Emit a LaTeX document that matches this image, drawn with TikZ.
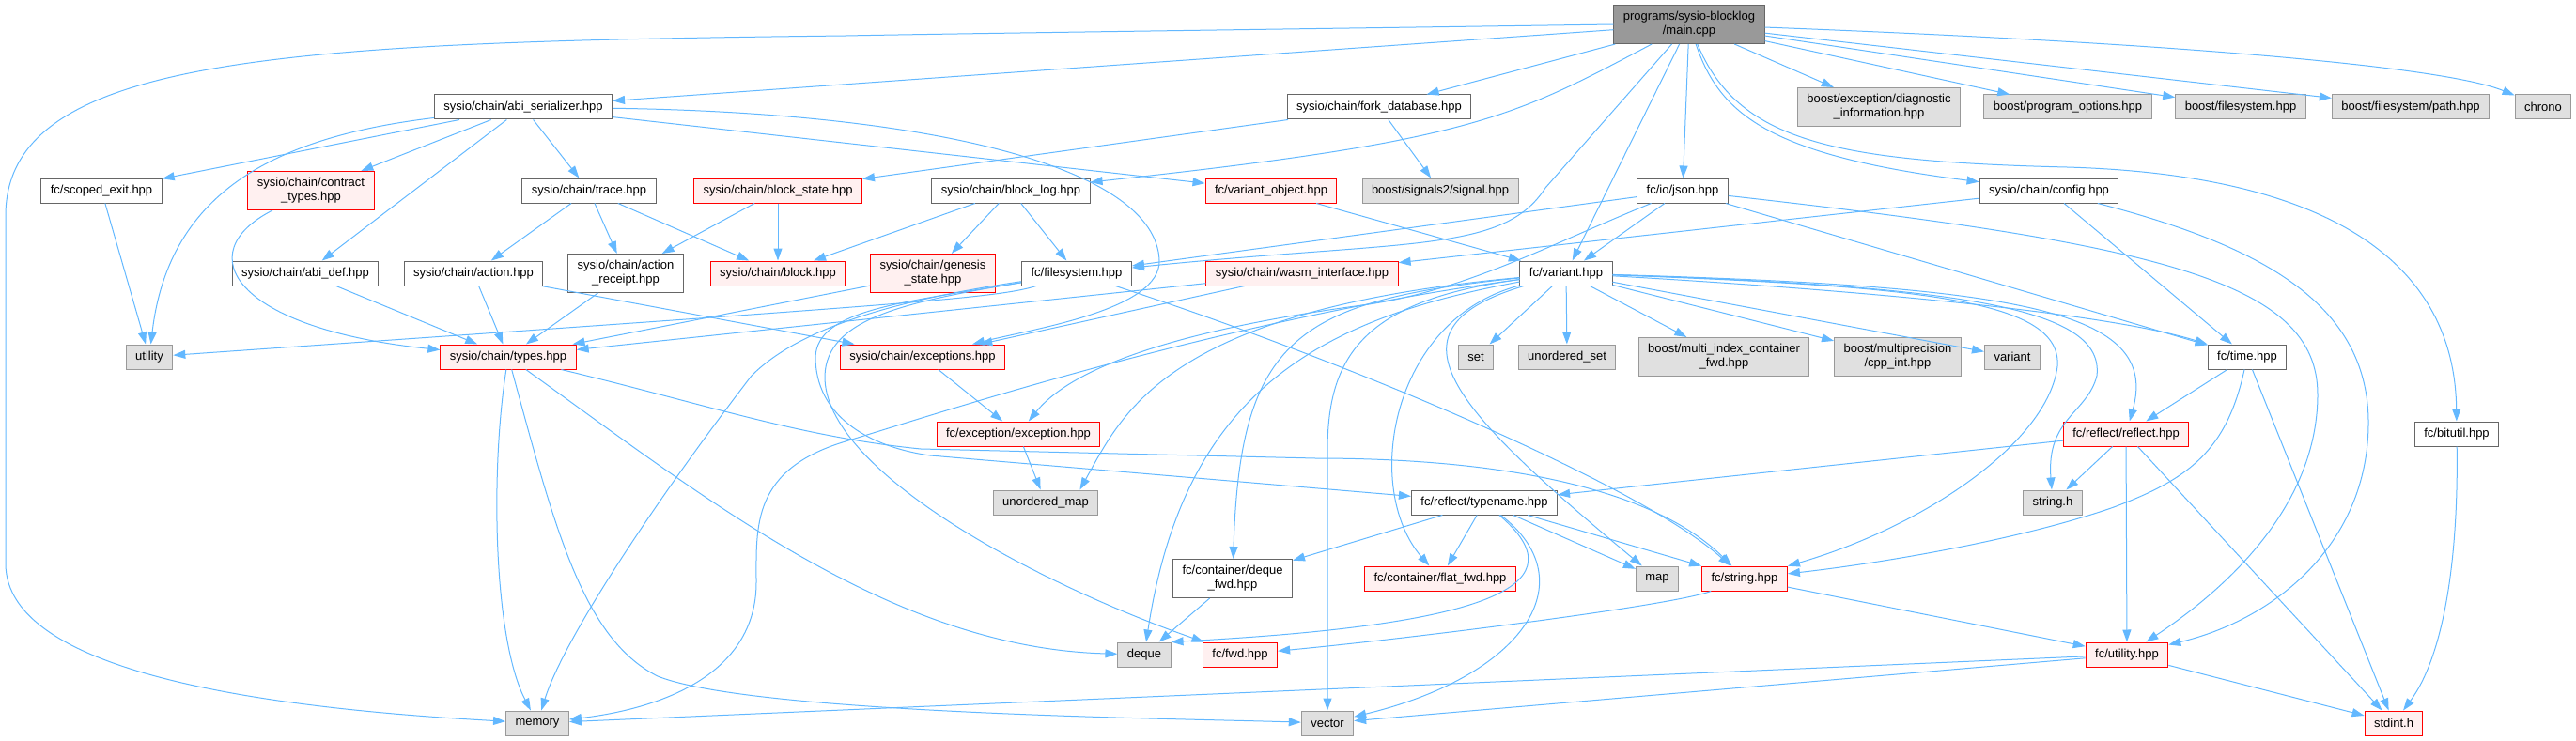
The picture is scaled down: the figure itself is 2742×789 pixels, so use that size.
\documentclass[tikz,border=0pt]{standalone}
\usepackage{fontspec}
\setmainfont{Liberation Sans}
\usetikzlibrary{arrows.meta}
\definecolor{edgeblue}{HTML}{63B8FF}
\definecolor{boxgrey}{HTML}{666666}
\definecolor{sysgrey}{HTML}{999999}
\definecolor{sysfill}{HTML}{E0E0E0}
\definecolor{redfill}{HTML}{FFF0F0}
\begin{document}
\begin{tikzpicture}[x=1pt, y=-1pt,
  box/.style={draw, line width=1pt, minimum height=26pt, inner xsep=10pt, inner ysep=0pt, align=center, font=\fontsize{13}{15}\selectfont},
  tall/.style={minimum height=41pt},
  file/.style={box, draw=boxgrey, fill=white},
  redfile/.style={box, draw=red, fill=redfill},
  sysfile/.style={box, draw=sysgrey, fill=sysfill},
  mainfile/.style={box, tall, draw=boxgrey, fill=sysgrey},
  dep/.style={edgeblue, line width=1pt, -{Triangle[length=13pt,width=9pt]}}]
  \useasboundingbox (0,0) rectangle (2742,789);
  \node[mainfile] (main) at (1798,26) {programs/sysio-blocklog\\/main.cpp};
  \node[file] (abiser) at (557,114) {sysio/chain/abi\_serializer.hpp};
  \node[file] (forkdb) at (1468,114) {sysio/chain/fork\_database.hpp};
  \node[sysfile, tall] (diag) at (2000,114) {boost/exception/diagnostic\\\_information.hpp};
  \node[sysfile] (progopt) at (2201,114) {boost/program\_options.hpp};
  \node[sysfile] (bfs) at (2385,114) {boost/filesystem.hpp};
  \node[sysfile] (bpath) at (2566,114) {boost/filesystem/path.hpp};
  \node[sysfile] (chrono) at (2707,114) {chrono};
  \node[file] (scoped) at (108,203) {fc/scoped\_exit.hpp};
  \node[redfile, tall] (contract) at (331,203) {sysio/chain/contract\\\_types.hpp};
  \node[file] (trace) at (627,203) {sysio/chain/trace.hpp};
  \node[redfile] (blockstate) at (828,203) {sysio/chain/block\_state.hpp};
  \node[file] (blocklog) at (1076,203) {sysio/chain/block\_log.hpp};
  \node[redfile] (varobj) at (1353,203) {fc/variant\_object.hpp};
  \node[sysfile] (signals) at (1533,203) {boost/signals2/signal.hpp};
  \node[file] (json) at (1791,203) {fc/io/json.hpp};
  \node[file] (config) at (2181,203) {sysio/chain/config.hpp};
  \node[file] (abidef) at (325,291) {sysio/chain/abi\_def.hpp};
  \node[file] (action) at (504,291) {sysio/chain/action.hpp};
  \node[file, tall] (actrec) at (666,291) {sysio/chain/action\\\_receipt.hpp};
  \node[redfile] (block) at (828,291) {sysio/chain/block.hpp};
  \node[redfile, tall] (genesis) at (993,291) {sysio/chain/genesis\\\_state.hpp};
  \node[file] (fsys) at (1146,291) {fc/filesystem.hpp};
  \node[redfile] (wasm) at (1386,291) {sysio/chain/wasm\_interface.hpp};
  \node[file] (variant) at (1667,291) {fc/variant.hpp};
  \node[sysfile] (utility) at (159,380) {utility};
  \node[redfile] (types) at (541,380) {sysio/chain/types.hpp};
  \node[redfile] (exceptions) at (982,380) {sysio/chain/exceptions.hpp};
  \node[sysfile] (set) at (1571,380) {set};
  \node[sysfile] (uset) at (1668,380) {unordered\_set};
  \node[sysfile, tall] (multiidx) at (1835,380) {boost/multi\_index\_container\\\_fwd.hpp};
  \node[sysfile, tall] (multiprec) at (2020,380) {boost/multiprecision\\/cpp\_int.hpp};
  \node[sysfile] (stdvariant) at (2142,380) {variant};
  \node[file] (time) at (2392,380) {fc/time.hpp};
  \node[redfile] (exchpp) at (1084,462) {fc/exception/exception.hpp};
  \node[redfile] (reflect) at (2263,462) {fc/reflect/reflect.hpp};
  \node[file] (bitutil) at (2615,462) {fc/bitutil.hpp};
  \node[sysfile] (umap) at (1113,535) {unordered\_map};
  \node[file] (typename) at (1580,535) {fc/reflect/typename.hpp};
  \node[sysfile] (stringh) at (2185,535) {string.h};
  \node[file, tall] (dequefwd) at (1312,616) {fc/container/deque\\\_fwd.hpp};
  \node[redfile] (flatfwd) at (1533,616) {fc/container/flat\_fwd.hpp};
  \node[sysfile] (map) at (1764,616) {map};
  \node[redfile] (fcstring) at (1857,616) {fc/string.hpp};
  \node[sysfile] (deque) at (1218,697) {deque};
  \node[redfile] (fwd) at (1320,697) {fc/fwd.hpp};
  \node[redfile] (fcutil) at (2264,697) {fc/utility.hpp};
  \node[sysfile] (memory) at (572,770) {memory};
  \node[sysfile] (vector) at (1413,770) {vector};
  \node[redfile] (stdint) at (2548,770) {stdint.h};
  \draw[dep] (main.west) .. controls (1300,32) and (1000,36) .. (900,38) .. controls (300,45) and (6,60) .. (6,230) -- (6,600) .. controls (6,720) and (300,755) .. (memory);
  \draw[dep] (main) -- (abiser);
  \draw[dep] (main) -- (forkdb);
  \draw[dep] (main) .. controls (1610,125) and (1570,150) .. (blocklog);
  \draw[dep] (main) -- (1645,200) .. controls (1600,270) and (1500,255) .. (fsys);
  \draw[dep] (main) -- (variant);
  \draw[dep] (main) -- (json);
  \draw[dep] (main) .. controls (1830,120) and (1880,165) .. (config);
  \draw[dep] (main) .. controls (1850,150) and (1950,172) .. (2200,178) .. controls (2480,186) and (2613,280) .. (bitutil);
  \draw[dep] (main) -- (diag);
  \draw[dep] (main) -- (progopt);
  \draw[dep] (main) -- (bfs);
  \draw[dep] (main) -- (bpath);
  \draw[dep] (main) .. controls (2300,45) and (2600,70) .. (chrono);
  \draw[dep] (abiser) .. controls (300,145) and (180,200) .. (utility);
  \draw[dep] (abiser) -- (scoped);
  \draw[dep] (abiser) -- (contract);
  \draw[dep] (abiser) -- (abidef);
  \draw[dep] (abiser) -- (trace);
  \draw[dep] (abiser) -- (varobj);
  \draw[dep] (abiser) .. controls (1000,120) and (1230,180) .. (1234,277) .. controls (1236,330) and (1100,350) .. (exceptions);
  \draw[dep] (forkdb) -- (blockstate);
  \draw[dep] (forkdb) -- (signals);
  \draw[dep] (blocklog) -- (block);
  \draw[dep] (blocklog) -- (genesis);
  \draw[dep] (blocklog) -- (fsys);
  \draw[dep] (varobj) -- (variant);
  \draw[dep] (json) -- (fsys);
  \draw[dep] (json) -- (variant);
  \draw[dep] (json) .. controls (1650,260) and (1560,310) .. (1450,325) .. controls (1300,345) and (1150,380) .. (exchpp);
  \draw[dep] (json) -- (time);
  \draw[dep] (json) .. controls (2300,260) and (2467,300) .. (2467,420) .. controls (2467,550) and (2350,640) .. (fcutil);
  \draw[dep] (config) -- (wasm);
  \draw[dep] (config) -- (time);
  \draw[dep] (config) .. controls (2400,260) and (2521,320) .. (2521,450) .. controls (2521,580) and (2420,660) .. (fcutil);
  \draw[dep] (trace) -- (action);
  \draw[dep] (trace) -- (actrec);
  \draw[dep] (trace) -- (block);
  \draw[dep] (blockstate) -- (actrec);
  \draw[dep] (blockstate) -- (block);
  \draw[dep] (contract) .. controls (200,270) and (250,350) .. (types);
  \draw[dep] (abidef) -- (types);
  \draw[dep] (action) -- (types);
  \draw[dep] (actrec) -- (types);
  \draw[dep] (action) -- (exceptions);
  \draw[dep] (genesis) -- (types);
  \draw[dep] (wasm) -- (types);
  \draw[dep] (wasm) -- (exceptions);
  \draw[dep] (fsys) .. controls (1060,318) and (960,324) .. (utility);
  \draw[dep] (fsys) .. controls (950,320) and (850,350) .. (800,400) .. controls (700,530) and (600,680) .. (memory);
  \draw[dep] (fsys) .. controls (960,322) and (870,330) .. (868,380) .. controls (868,440) and (920,475) .. (990,485) -- (typename);
  \draw[dep] (fsys) .. controls (960,322) and (880,340) .. (878,400) .. controls (876,500) and (1100,620) .. (fwd);
  \draw[dep] (fsys) .. controls (1450,390) and (1750,520) .. (fcstring);
  \draw[dep] (types) .. controls (522,500) and (525,680) .. (memory);
  \draw[dep] (types) .. controls (590,560) and (620,680) .. (700,720) .. controls (800,760) and (1250,765) .. (vector);
  \draw[dep] (types) .. controls (750,530) and (950,690) .. (deque);
  \draw[dep] (types) .. controls (750,430) and (850,465) .. (980,478) -- (1400,488) .. controls (1600,488) and (1760,520) .. (fcstring);
  \draw[dep] (variant) -- (set);
  \draw[dep] (variant) -- (uset);
  \draw[dep] (variant) -- (multiidx);
  \draw[dep] (variant) -- (multiprec);
  \draw[dep] (variant) -- (stdvariant);
  \draw[dep] (variant) .. controls (2000,310) and (2250,335) .. (time);
  \draw[dep] (variant) .. controls (2150,305) and (2300,330) .. (reflect);
  \draw[dep] (variant) .. controls (2100,305) and (2240,330) .. (2232,400) .. controls (2222,440) and (2178,445) .. (stringh);
  \draw[dep] (variant) .. controls (2050,305) and (2195,320) .. (2190,390) .. controls (2180,470) and (2050,560) .. (fcstring);
  \draw[dep] (variant) .. controls (1470,350) and (1540,430) .. (map);
  \draw[dep] (variant) .. controls (1480,340) and (1450,520) .. (flatfwd);
  \draw[dep] (variant) .. controls (1450,320) and (1413,380) .. (1413,480) -- (vector);
  \draw[dep] (variant) .. controls (1380,320) and (1320,360) .. (dequefwd);
  \draw[dep] (variant) .. controls (1400,340) and (1260,420) .. (deque);
  \draw[dep] (variant) .. controls (1240,330) and (1195,440) .. ([xshift=-20pt]umap.north east);
  \draw[dep] (variant) .. controls (1300,340) and (1000,440) .. (900,470) .. controls (800,500) and (805,560) .. (805,620) .. controls (805,720) and (700,755) .. (memory);
  \draw[dep] (typename) -- (dequefwd);
  \draw[dep] (typename) -- (flatfwd);
  \draw[dep] (typename) -- (map);
  \draw[dep] (typename) -- (fcstring);
  \draw[dep] (typename) .. controls (1680,620) and (1600,665) .. (deque.north east);
  \draw[dep] (typename) .. controls (1690,620) and (1620,720) .. (vector);
  \draw[dep] (reflect) -- (typename);
  \draw[dep] (reflect) -- (stringh);
  \draw[dep] (reflect) -- (fcutil);
  \draw[dep] (reflect) -- (stdint);
  \draw[dep] (time) -- (reflect);
  \draw[dep] (time) -- (stdint);
  \draw[dep] (time) .. controls (2370,480) and (2330,510) .. (2250,540) .. controls (2150,575) and (2000,600) .. (fcstring);
  \draw[dep] (fcstring) .. controls (1780,645) and (1500,680) .. (fwd);
  \draw[dep] (fcstring) -- (fcutil);
  \draw[dep] (fcutil) -- (memory);
  \draw[dep] (fcutil) -- (vector);
  \draw[dep] (fcutil) -- (stdint);
  \draw[dep] (bitutil) .. controls (2617,600) and (2600,700) .. (stdint);
  \draw[dep] (dequefwd) -- (deque);
  \draw[dep] (exceptions) -- (exchpp);
  \draw[dep] (exchpp) -- (umap);
  \draw[dep] (scoped) -- (utility);
\end{tikzpicture}
\end{document}
